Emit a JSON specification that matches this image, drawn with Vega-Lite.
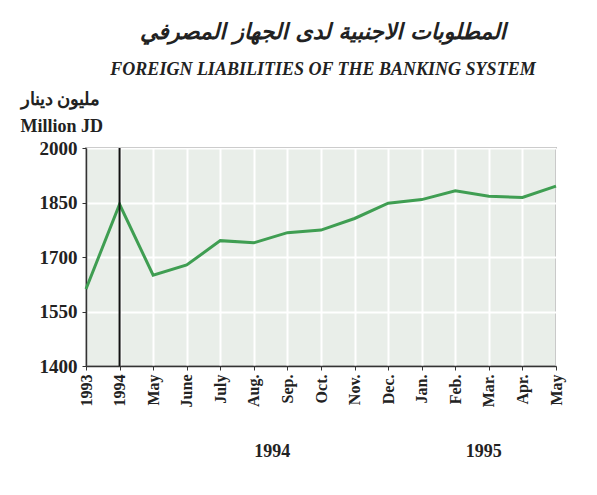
{
  "$schema": "https://vega.github.io/schema/vega-lite/v6.json",
  "autosize": {"type": "none"},
  "width": 470,
  "height": 218,
  "padding": {"left": 86, "top": 148, "right": 41, "bottom": 129},
  "background": "white",
  "title": {
    "text": "المطلوبات الاجنبية لدى الجهاز المصرفي",
    "subtitle": "FOREIGN LIABILITIES OF THE  BANKING SYSTEM",
    "anchor": "middle",
    "frame": "group",
    "offset": 10,
    "font": "DejaVu Sans",
    "fontSize": 22,
    "fontWeight": "bold",
    "fontStyle": "italic",
    "color": "#222",
    "subtitleFont": "Liberation Serif",
    "subtitleFontSize": 18,
    "subtitleFontWeight": "bold",
    "subtitleFontStyle": "italic",
    "subtitleColor": "#222",
    "subtitlePadding": 17,
    "dx": 2
  },
  "config": {
    "view": {"fill": "#e9eee9", "stroke": "#777", "strokeWidth": 1.5},
    "font": "Liberation Serif"
  },
  "datasets": {
    "series": [
      {"t": 0, "label": "1993", "value": 1612},
      {"t": 1, "label": "1994", "value": 1845},
      {"t": 2, "label": "May", "value": 1650},
      {"t": 3, "label": "June", "value": 1678},
      {"t": 4, "label": "July", "value": 1745},
      {"t": 5, "label": "Aug.", "value": 1739},
      {"t": 6, "label": "Sep.", "value": 1767},
      {"t": 7, "label": "Oct.", "value": 1774},
      {"t": 8, "label": "Nov.", "value": 1806},
      {"t": 9, "label": "Dec.", "value": 1848},
      {"t": 10, "label": "Jan.", "value": 1858},
      {"t": 11, "label": "Feb.", "value": 1882},
      {"t": 12, "label": "Mar.", "value": 1867},
      {"t": 13, "label": "Apr.", "value": 1864},
      {"t": 14, "label": "May", "value": 1895}
    ],
    "years": [
      {"t": 5.55, "year": "1994"},
      {"t": 11.85, "year": "1995"}
    ],
    "marker": [{"t": 1}]
  },
  "layer": [
    {
      "data": {"name": "series"},
      "mark": {"type": "line", "color": "#3f9e52", "strokeWidth": 3},
      "encoding": {
        "x": {
          "field": "t",
          "type": "quantitative",
          "scale": {"domain": [0, 14], "nice": false, "zero": false},
          "axis": {
            "values": [0,1,2,3,4,5,6,7,8,9,10,11,12,13,14],
            "tickCount": 30,
            "labelExpr": "['1993','1994','May','June','July','Aug.','Sep.','Oct.','Nov.','Dec.','Jan.','Feb.','Mar.','Apr.','May'][datum.value]",
            "labelAngle": 270,
            "labelAlign": "right",
            "labelBaseline": "middle",
            "labelFont": "Liberation Serif",
            "labelFontSize": 16,
            "labelFontWeight": "bold",
            "labelColor": "#222",
            "labelPadding": 4,
            "labelFlush": false,
            "labelOverlap": false,
            "grid": true,
            "gridColor": "white",
            "gridWidth": 2,
            "domainColor": "#333",
            "domainWidth": 1.5,
            "tickColor": "#333",
            "tickSize": 4,
            "title": null
          }
        },
        "y": {
          "field": "value",
          "type": "quantitative",
          "scale": {"domain": [1400, 2000], "nice": false, "zero": false},
          "axis": {
            "values": [1400, 1550, 1700, 1850, 2000],
            "tickCount": 10,
            "format": "d",
            "labelFont": "Liberation Serif",
            "labelFontSize": 19,
            "labelFontWeight": "bold",
            "labelColor": "#222",
            "labelPadding": 5,
            "grid": true,
            "gridColor": "white",
            "gridWidth": 2,
            "domainColor": "#333",
            "domainWidth": 1.5,
            "tickColor": "#333",
            "tickSize": 4,
            "title": ["مليون دينار", "Million JD"],
            "titleAngle": 0,
            "titleAlign": "left",
            "titleBaseline": "top",
            "titleX": -66,
            "titleY": -58,
            "titleFont": "Liberation Serif",
            "titleFontSize": 18,
            "titleFontWeight": "bold",
            "titleColor": "#222",
            "titleLineHeight": 27
          }
        }
      }
    },
    {
      "data": {"name": "marker"},
      "mark": {"type": "rule", "color": "#111", "strokeWidth": 2},
      "encoding": {"x": {"field": "t", "type": "quantitative"}}
    },
    {
      "data": {"name": "years"},
      "mark": {"type": "text", "font": "Liberation Serif", "fontSize": 18, "fontWeight": "bold", "color": "#222", "baseline": "middle", "dy": 86},
      "encoding": {
        "x": {"field": "t", "type": "quantitative"},
        "y": {"datum": 1400, "type": "quantitative"},
        "text": {"field": "year"}
      }
    }
  ]
}
